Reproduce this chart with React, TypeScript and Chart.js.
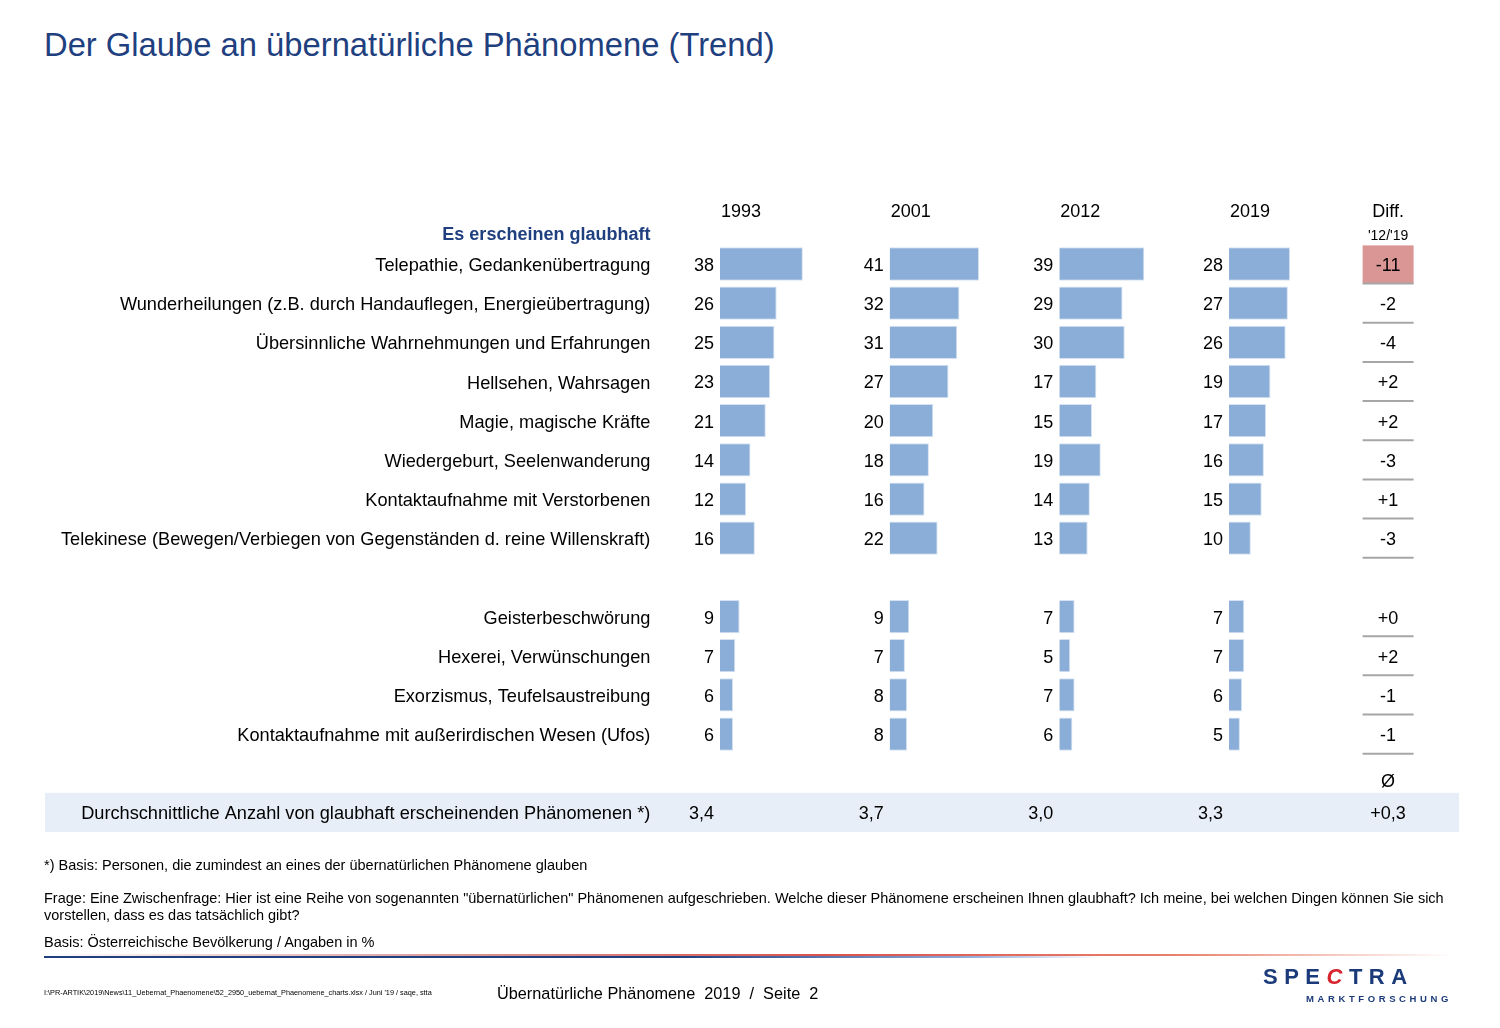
import React, { useEffect, useRef } from 'react';
import { Chart, registerables } from 'chart.js';

Chart.register(...registerables);

const years = ['1993', '2001', '2012', '2019'];
const categories = [
  'Telepathie, Gedankenübertragung',
  'Wunderheilungen (z.B. durch Handauflegen, Energieübertragung)',
  'Übersinnliche Wahrnehmungen und Erfahrungen',
  'Hellsehen, Wahrsagen',
  'Magie, magische Kräfte',
  'Wiedergeburt, Seelenwanderung',
  'Kontaktaufnahme mit Verstorbenen',
  'Telekinese (Bewegen/Verbiegen von Gegenständen d. reine Willenskraft)',
  '',
  'Geisterbeschwörung',
  'Hexerei, Verwünschungen',
  'Exorzismus, Teufelsaustreibung',
  'Kontaktaufnahme mit außerirdischen Wesen (Ufos)',
  '',
  'Durchschnittliche Anzahl von glaubhaft erscheinenden Phänomenen *)',
];
const values1993 = [38, 26, 25, 23, 21, 14, 12, 16, null, 9, 7, 6, 6, null, null];
const values2001 = [41, 32, 31, 27, 20, 18, 16, 22, null, 9, 7, 8, 8, null, null];
const values2012 = [39, 29, 30, 17, 15, 19, 14, 13, null, 7, 5, 7, 6, null, null];
const values2019 = [28, 27, 26, 19, 17, 16, 15, 10, null, 7, 7, 6, 5, null, null];
const averages = [3.4, 3.7, 3.0, 3.3];
const avgIndex = 14;
const avgSymbolIndex = 13;

const FONT = '"Liberation Sans", Arial, Helvetica, sans-serif';
const BLUE = '#1F3F7F';
const BAR = '#8AAED8';
const TY = 2; // vertical text nudge

const seriesList = [values1993, values2001, values2012, values2019];

const fmtDiff = (d: number) => (d > 0 ? '+' : d < 0 ? '-' : '+') + String(Math.abs(d));
const fmtAvg = (v: number) => v.toFixed(1).replace('.', ',');

const tablePlugin = {
  id: 'tablePlugin',
  beforeDraw(chart: any) {
    const { ctx, chartArea } = chart;
    const y = chart.scales.y;
    const rowH = y.getPixelForValue(1) - y.getPixelForValue(0);
    const yAvg = y.getPixelForValue(avgIndex);
    ctx.save();
    ctx.fillStyle = '#E8EEF7';
    ctx.fillRect(45, yAvg - rowH / 2, chartArea.right + 104 - 45, rowH);
    ctx.restore();
  },
  afterDatasetsDraw(chart: any) {
    const { ctx, chartArea } = chart;
    const y = chart.scales.y;
    const rowH = y.getPixelForValue(1) - y.getPixelForValue(0);
    const top = chartArea.top;
    const diffX = chartArea.right + 33;
    ctx.save();
    ctx.font = `18px ${FONT}`;
    ctx.fillStyle = '#000';
    ctx.textBaseline = 'middle';

    seriesList.forEach((vals, d) => {
      const xs = chart.scales['x' + d];
      const x0 = xs.getPixelForValue(0);
      ctx.textAlign = 'center';
      ctx.fillText(years[d], x0 + 21, top - 34 + TY);
      const meta = chart.getDatasetMeta(d);
      ctx.textAlign = 'right';
      meta.data.forEach((el: any, i: number) => {
        const v = vals[i];
        if (v === null || v === undefined) return;
        ctx.fillText(String(v), el.base - 6, el.y + TY);
      });
      ctx.fillText(fmtAvg(averages[d]), x0 - 6, y.getPixelForValue(avgIndex) + TY);
    });

    ctx.textAlign = 'right';
    ctx.fillStyle = BLUE;
    ctx.font = `bold 18px ${FONT}`;
    ctx.fillText('Es erscheinen glaubhaft', chartArea.left - 26, top - 11 + TY);

    ctx.fillStyle = '#000';
    ctx.textAlign = 'center';
    ctx.font = `18px ${FONT}`;
    ctx.fillText('Diff.', diffX, top - 34 + TY);
    ctx.font = `14px ${FONT}`;
    ctx.fillText("'12/'19", diffX, top - 10 + TY);

    ctx.font = `18px ${FONT}`;
    values2019.forEach((v, i) => {
      const p = values2012[i];
      if (v === null || p === null) return;
      const d = (v as number) - (p as number);
      const cy = y.getPixelForValue(i);
      if (Math.abs(d) >= 5) {
        ctx.fillStyle = '#DA9694';
        ctx.fillRect(diffX - 25.5, cy - rowH / 2 + 1, 51, rowH - 1);
      }
      ctx.strokeStyle = '#A6A6A6';
      ctx.lineWidth = 2;
      ctx.beginPath();
      ctx.moveTo(diffX - 25.5, cy + rowH / 2);
      ctx.lineTo(diffX + 25.5, cy + rowH / 2);
      ctx.stroke();
      ctx.fillStyle = '#000';
      ctx.fillText(fmtDiff(d), diffX, cy + TY);
    });
    ctx.fillText('Ø', diffX, y.getPixelForValue(avgSymbolIndex) + 7 + TY);
    const dAvg = averages[3] - averages[2];
    ctx.fillText((dAvg >= 0 ? '+' : '-') + fmtAvg(Math.abs(dAvg)), diffX, y.getPixelForValue(avgIndex) + TY);
    ctx.restore();
  },
};

export default function App() {
  const ref = useRef<HTMLCanvasElement | null>(null);

  useEffect(() => {
    if (!ref.current) return;
    const xMin = -20;
    const xMax = 57.83;
    const scales: any = {
      y: {
        type: 'category',
        position: 'left',
        grid: { display: false, drawTicks: false },
        border: { display: false },
        ticks: {
          autoSkip: false,
          padding: 26,
          labelOffset: TY,
          color: '#000',
          font: { family: FONT, size: 18.2 },
        },
        afterFit: (s: any) => {
          s.width = 676.4;
        },
      },
    };
    seriesList.forEach((_, d) => {
      scales['x' + d] = {
        type: 'linear',
        position: 'bottom',
        stack: 'cols',
        stackWeight: 1,
        min: xMin,
        max: xMax,
        display: false,
        grid: { display: false },
      };
    });
    const chart = new Chart(ref.current, {
      type: 'bar',
      data: {
        labels: categories,
        datasets: seriesList.map((vals, d) => ({
          label: years[d],
          data: vals,
          xAxisID: 'x' + d,
          yAxisID: 'y',
          backgroundColor: BAR,
          borderColor: '#D6E2F1',
          borderWidth: 1,
          grouped: false,
          barPercentage: 0.85,
          categoryPercentage: 1,
        })),
      },
      options: {
        indexAxis: 'y',
        responsive: false,
        animation: false,
        events: [],
        layout: { padding: { top: 244.4, bottom: 196, left: 0, right: 144.9 } },
        plugins: {
          legend: { display: false },
          tooltip: { enabled: false },
          title: { display: false },
        },
        scales,
      },
      plugins: [tablePlugin],
    } as any);
    return () => chart.destroy();
  }, []);

  const abs = (o: React.CSSProperties): React.CSSProperties => ({ position: 'absolute', whiteSpace: 'pre', fontFamily: FONT, ...o });

  return (
    <div style={{ position: 'absolute', left: 0, top: 0, width: 1500, height: 1028, background: '#fff', overflow: 'hidden' }}>
      <div style={abs({ left: 44, top: 25, fontSize: 32.75, lineHeight: '40px', color: BLUE })}>
        Der Glaube an übernatürliche Phänomene (Trend)
      </div>
      <canvas ref={ref} width={1500} height={1028} style={{ position: 'absolute', left: 0, top: 0, width: 1500, height: 1028 }} />
      <div style={abs({ left: 44, top: 857, fontSize: 14.5, lineHeight: '16px', color: '#000' })}>
        *) Basis: Personen, die zumindest an eines der übernatürlichen Phänomene glauben
      </div>
      <div style={abs({ left: 44, top: 890, fontSize: 14.5, lineHeight: '16.5px', color: '#000' })}>
        {'Frage: Eine Zwischenfrage: Hier ist eine Reihe von sogenannten "übernatürlichen" Phänomenen aufgeschrieben. Welche dieser Phänomene erscheinen Ihnen glaubhaft? Ich meine, bei welchen Dingen können Sie sich\nvorstellen, dass es das tatsächlich gibt?'}
      </div>
      <div style={abs({ left: 44, top: 934, fontSize: 14.5, lineHeight: '16px', color: '#000' })}>
        Basis: Österreichische Bevölkerung / Angaben in %
      </div>
      <div style={{ position: 'absolute', left: 44, top: 954, width: 1410, height: 1.5, background: 'linear-gradient(to right, rgba(192,80,77,0) 0%, rgba(192,80,77,0.6) 30%, #D9534F 55%, #E8806A 80%, rgba(240,160,140,0) 100%)' }} />
      <div style={{ position: 'absolute', left: 44, top: 955.5, width: 1410, height: 2, background: 'linear-gradient(to right, #1F3F7F 0%, #1F3F7F 45%, #8FA8D8 65%, rgba(200,215,240,0) 75%)' }} />
      <div style={abs({ left: 44, top: 988, fontSize: 7.3, lineHeight: '10px', color: '#000' })}>
        {"I:\\PR-ARTIK\\2019\\News\\11_Uebernat_Phaenomene\\52_2950_uebernat_Phaenomene_charts.xlsx / Juni '19 / saqe, stta"}
      </div>
      <div style={abs({ left: 497, top: 983, fontSize: 16.3, lineHeight: '20px', color: '#000' })}>
        {'Übernatürliche Phänomene  2019  /  Seite  2'}
      </div>
      <div style={abs({ left: 1263, top: 964, fontSize: 22, lineHeight: '26px', fontWeight: 'bold', letterSpacing: '6.5px', color: '#1B3A7A' })}>
        SPE<span style={{ color: '#D7262F', fontStyle: 'italic' }}>C</span>TRA
      </div>
      <div style={abs({ left: 1306, top: 993, fontSize: 9.5, lineHeight: '12px', fontWeight: 'bold', letterSpacing: '3.6px', color: '#1B3A7A' })}>
        MARKTFORSCHUNG
      </div>
    </div>
  );
}
